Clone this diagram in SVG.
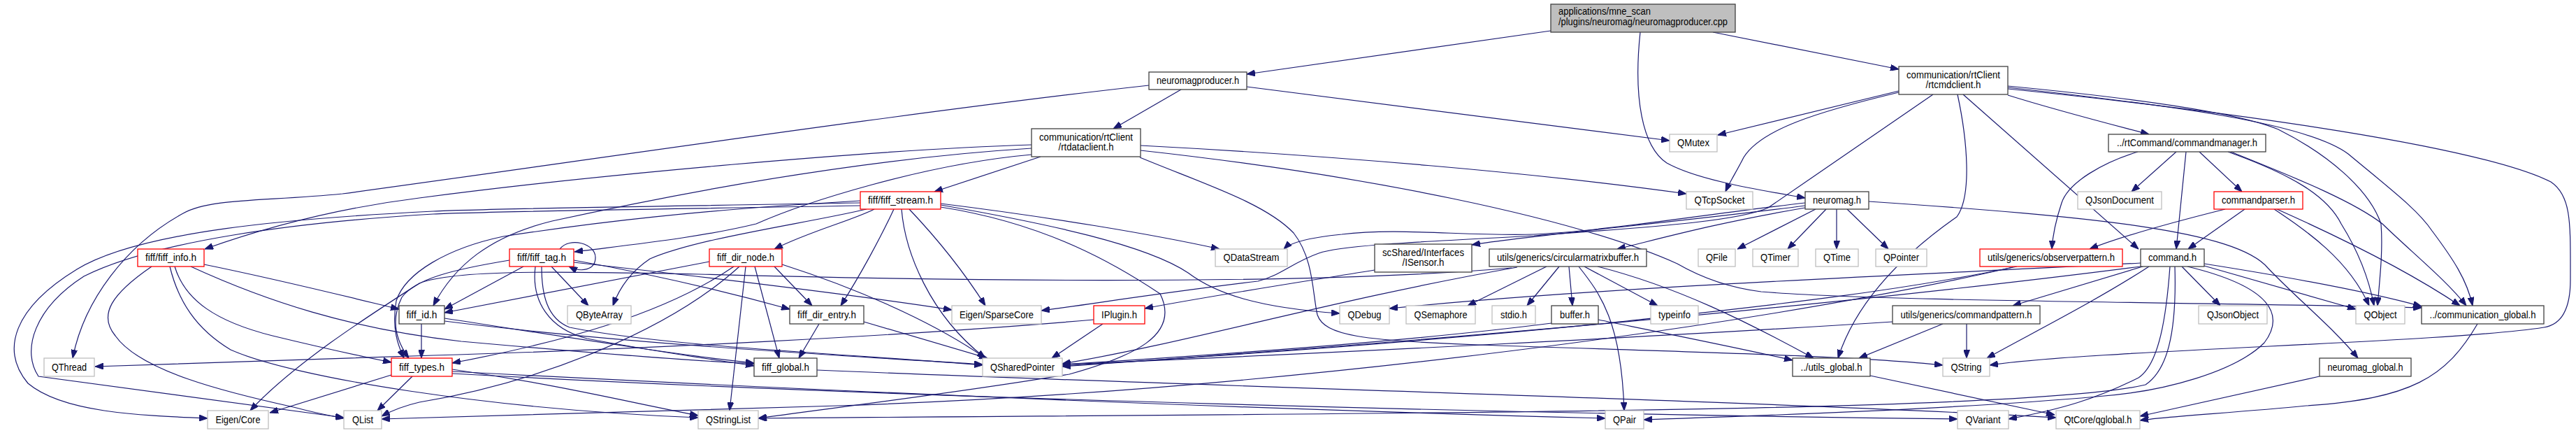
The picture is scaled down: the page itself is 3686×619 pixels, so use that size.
<svg xmlns="http://www.w3.org/2000/svg" width="3686" height="619" viewBox="0 0 3686 619">
<style>
.nd rect{fill:#ffffff;stroke-width:1.3}
.dk rect{stroke:#404040}
.gy rect{stroke:#bfbfbf}
.rd rect{stroke:#ff0000}
.rt rect{fill:#bfbfbf;stroke:#404040;stroke-width:1.3}
text{font-family:"Liberation Sans",Arial,sans-serif;font-size:14px;fill:#000000;text-anchor:middle}
.rt text{text-anchor:start}
#edges path{fill:none;stroke:#191970;stroke-width:1.2;marker-end:url(#ah)}
</style>
<defs>
<marker id="ah" markerUnits="userSpaceOnUse" markerWidth="12" markerHeight="9" refX="12" refY="4.5" orient="auto">
<path d="M0,0 L12,4.5 L0,9 z" fill="#191970" stroke="#191970" stroke-width="1"/>
</marker>
</defs>
<rect x="0" y="0" width="3686" height="619" fill="#ffffff"/>
<g id="edges">
<path d="M2219,44 L1784,106"/>
<path d="M2451,46 L2717,99"/>
<path d="M2347,46 C2337,140 2350,210 2385,233 C2430,258 2520,272 2583,283"/>
<path d="M1690,128 L1593,184"/>
<path d="M1784,124 L2389,201"/>
<path d="M1644,122 C1300,160 800,235 490,277 C380,288 300,283 262,305 C180,350 120,430 104,512"/>
<path d="M1489,224 L1337,274"/>
<path d="M1476,207 C1250,214 850,250 600,283 C480,298 380,325 293,356"/>
<path d="M1476,212 C1250,226 1000,270 790,316 C700,338 650,380 620,437"/>
<path d="M1476,221 C1320,235 1150,290 1082,320 C1000,340 900,350 822,360"/>
<path d="M1632,208 C1900,222 2200,247 2413,277"/>
<path d="M1631,225 C1720,262 1810,290 1851,333 C1880,370 1878,420 1885,450 C1895,480 1950,487 2116,493 C2400,503 2650,508 2780,522"/>
<path d="M1632,215 C1950,250 2250,310 2400,377 C2440,400 2480,412 2520,417 C2700,432 3200,432 3465,440"/>
<path d="M1231,290 C950,295 700,298 620,302 C420,312 200,330 110,385 C20,440 0,500 40,548 C90,590 200,594 297,598"/>
<path d="M1231,294 C950,299 700,302 620,306 C420,318 220,345 120,395 C50,440 30,500 55,538 L492,597"/>
<path d="M1251,299 C1220,315 1160,330 1108,356"/>
<path d="M1279,299 C1260,340 1230,395 1203,437"/>
<path d="M1290,299 C1295,360 1330,450 1410,512"/>
<path d="M1301,299 C1340,340 1380,390 1410,437"/>
<path d="M1346,291 C1500,310 1650,335 1745,356"/>
<path d="M1346,293 C1500,320 1640,350 1700,390 C1740,420 1800,440 1917,448"/>
<path d="M1346,296 C1500,320 1600,380 1660,420 C1690,480 1620,510 1530,535 C1350,565 1150,588 1085,598"/>
<path d="M1240,299 C1150,320 1000,340 930,370 C900,390 885,415 877,437"/>
<path d="M1231,287 C1000,300 850,318 720,338 C640,355 580,390 567,430 C560,470 570,495 578,512"/>
<path d="M292,378 C400,400 480,420 571,442"/>
<path d="M250,381 C265,430 310,460 390,480 C460,497 510,508 560,518"/>
<path d="M217,381 C160,420 140,450 165,480 C200,530 320,560 420,582 C450,590 470,594 492,598"/>
<path d="M243,381 C255,430 280,470 330,500 C420,540 700,585 999,597"/>
<path d="M273,381 C380,430 500,470 660,488 C850,505 980,515 1079,520"/>
<path d="M801,356 C815,338 852,348 852,368 C852,386 832,390 814,381"/>
<path d="M749,381 L636,442"/>
<path d="M789,381 L842,437"/>
<path d="M729,372 C650,385 595,398 575,425 C560,455 565,485 585,512"/>
<path d="M766,381 C760,430 785,470 840,484 C950,505 1030,515 1079,523"/>
<path d="M775,381 C775,420 782,455 815,468 C950,495 1200,505 1406,522"/>
<path d="M821,372 C950,395 1050,420 1130,442"/>
<path d="M821,375 C1000,395 1200,418 1362,443"/>
<path d="M603,463 L603,512"/>
<path d="M636,455 C800,480 950,505 1079,519"/>
<path d="M636,459 C900,492 1200,508 1406,521"/>
<path d="M560,536 L386,590"/>
<path d="M590,538 L540,587"/>
<path d="M647,528 C800,550 900,575 999,594"/>
<path d="M647,531 C1200,560 1800,585 2297,598"/>
<path d="M647,534 C1300,570 2200,592 2801,599"/>
<path d="M1015,374 L636,447"/>
<path d="M1108,381 L1162,437"/>
<path d="M1080,381 L1115,512"/>
<path d="M1067,381 L1044,587"/>
<path d="M1050,381 C950,450 800,490 647,519"/>
<path d="M1058,381 C960,470 780,545 600,575 C570,582 555,590 546,595"/>
<path d="M1119,378 C1250,420 1350,470 1410,512"/>
<path d="M1172,463 L1143,512"/>
<path d="M1236,460 L1413,512"/>
<path d="M1169,529 C1700,552 2500,572 2942,597"/>
<path d="M1578,463 L1505,512"/>
<path d="M1565,457 C1300,480 900,500 620,508 C400,515 250,520 136,524"/>
<path d="M1967,386 C1850,405 1720,425 1638,441"/>
<path d="M2717,130 L2458,193"/>
<path d="M2717,132 C2600,160 2520,185 2495,225 C2485,245 2475,260 2469,274"/>
<path d="M2873,136 C2950,160 3030,180 3075,192"/>
<path d="M2809,135 L3060,356"/>
<path d="M2801,135 C2815,200 2822,280 2800,310 C2700,380 2650,450 2630,512"/>
<path d="M2873,123 C3050,140 3200,160 3260,185 C3330,220 3390,270 3407,320 C3410,360 3405,400 3402,437"/>
<path d="M2873,125 C3100,150 3300,175 3360,220 C3420,270 3460,300 3480,330 C3510,370 3530,400 3538,437"/>
<path d="M2873,127 C3200,160 3550,210 3650,260 C3680,280 3678,320 3678,400 C3678,450 3660,465 3640,468 C3500,490 3000,500 2847,522"/>
<path d="M2766,135 L2530,297 C2480,320 2300,328 2195,337 C2050,345 1920,350 1887,362 C1850,375 1830,395 1800,402 C1650,420 1560,435 1490,444"/>
<path d="M2583,290 C2450,305 2300,330 2195,335 C2100,338 2000,325 1920,335 C1870,340 1845,348 1837,356"/>
<path d="M2583,294 C2400,318 2200,335 2106,350"/>
<path d="M2583,297 C2450,320 2380,340 2314,356"/>
<path d="M2598,299 L2486,356"/>
<path d="M2613,299 L2558,356"/>
<path d="M2628,299 L2628,356"/>
<path d="M2643,299 L2702,356"/>
<path d="M2674,288 C3000,310 3200,330 3245,383 C3290,430 3340,470 3374,512"/>
<path d="M2213,381 L2100,437"/>
<path d="M2231,381 L2185,437"/>
<path d="M2245,381 L2250,437"/>
<path d="M2267,381 L2372,437"/>
<path d="M2259,381 C2290,420 2320,460 2324,587"/>
<path d="M2286,381 C2400,410 2500,460 2595,512"/>
<path d="M2171,382 C1900,430 1700,490 1520,520"/>
<path d="M2163,383 C1850,410 1300,400 1000,392 C800,388 650,385 600,405 C530,450 420,520 358,587"/>
<path d="M2220,462 C2000,490 1700,510 1520,521"/>
<path d="M2287,457 C2400,480 2500,500 2565,515"/>
<path d="M3114,217 L3050,274"/>
<path d="M3147,217 L3208,274"/>
<path d="M3128,217 L3114,356"/>
<path d="M3059,217 C3010,232 2960,260 2950,290 C2940,320 2937,340 2936,356"/>
<path d="M3188,217 C3280,250 3330,280 3350,320 C3375,360 3390,400 3397,437"/>
<path d="M3192,217 C3300,260 3370,290 3409,320 C3450,360 3500,400 3529,437"/>
<path d="M3184,299 C3100,320 3030,340 2990,356"/>
<path d="M3212,299 L3131,356"/>
<path d="M3254,299 C3300,330 3360,370 3390,437"/>
<path d="M3258,299 C3350,340 3450,390 3520,437"/>
<path d="M2886,381 C2700,420 2500,440 2300,462 C2000,492 1700,512 1520,523"/>
<path d="M2880,382 C2500,470 1800,560 1200,580 C900,588 700,594 546,599"/>
<path d="M3122,381 L3177,437"/>
<path d="M3154,380 L3371,442"/>
<path d="M3154,377 C3300,400 3400,420 3465,438"/>
<path d="M3066,381 L2880,437"/>
<path d="M3075,381 C3000,430 2900,480 2843,512"/>
<path d="M3070,380 C2800,415 2300,470 1520,524"/>
<path d="M3063,376 C2700,395 2300,410 1988,441"/>
<path d="M3105,381 C3100,450 3090,520 3060,540 C3000,570 2950,585 2874,599"/>
<path d="M3112,381 C3115,480 3100,530 3070,550 C2900,590 2000,590 1085,598"/>
<path d="M3130,381 C3250,410 3270,450 3240,490 C3200,530 3100,560 3000,567 C2800,585 2500,595 2352,600"/>
<path d="M2814,463 L2814,512"/>
<path d="M2780,463 L2660,512"/>
<path d="M2708,460 C2400,480 1900,505 1520,521"/>
<path d="M2676,537 L2940,593"/>
<path d="M3319,538 L3062,595"/>
<path d="M3545,463 C3500,540 3450,570 3300,580 C3200,590 3100,595 3062,601"/>
</g>
<g id="n_root" class="rt"><rect x="2219" y="6" width="264" height="40"/><text x="2230" y="21" textLength="132" lengthAdjust="spacingAndGlyphs">applications/mne_scan</text><text x="2230" y="36" textLength="242" lengthAdjust="spacingAndGlyphs">/plugins/neuromag/neuromagproducer.cpp</text></g>
<g id="n_nmp" class="nd dk"><rect x="1644" y="103" width="140" height="25"/><text x="1714" y="120" textLength="118" lengthAdjust="spacingAndGlyphs">neuromagproducer.h</text></g>
<g id="n_rdc" class="nd dk"><rect x="1476" y="184" width="156" height="40"/><text x="1554" y="201" textLength="134" lengthAdjust="spacingAndGlyphs">communication/rtClient</text><text x="1554" y="215" textLength="79" lengthAdjust="spacingAndGlyphs">/rtdataclient.h</text></g>
<g id="n_fs" class="nd rd"><rect x="1231" y="274" width="115" height="25"/><text x="1288.5" y="291" textLength="93" lengthAdjust="spacingAndGlyphs">fiff/fiff_stream.h</text></g>
<g id="n_rcc" class="nd dk"><rect x="2717" y="95" width="156" height="40"/><text x="2795" y="112" textLength="134" lengthAdjust="spacingAndGlyphs">communication/rtClient</text><text x="2795" y="126" textLength="79" lengthAdjust="spacingAndGlyphs">/rtcmdclient.h</text></g>
<g id="n_qmutex" class="nd gy"><rect x="2389" y="192" width="68" height="25"/><text x="2423" y="209" textLength="46" lengthAdjust="spacingAndGlyphs">QMutex</text></g>
<g id="n_qtcp" class="nd gy"><rect x="2413" y="274" width="95" height="25"/><text x="2460.5" y="291" textLength="72" lengthAdjust="spacingAndGlyphs">QTcpSocket</text></g>
<g id="n_nm" class="nd dk"><rect x="2583" y="274" width="91" height="25"/><text x="2628.5" y="291" textLength="69" lengthAdjust="spacingAndGlyphs">neuromag.h</text></g>
<g id="n_cm" class="nd dk"><rect x="3017" y="192" width="225" height="25"/><text x="3129.5" y="209" textLength="201" lengthAdjust="spacingAndGlyphs">../rtCommand/commandmanager.h</text></g>
<g id="n_qjd" class="nd gy"><rect x="2973" y="274" width="120" height="25"/><text x="3033" y="291" textLength="98" lengthAdjust="spacingAndGlyphs">QJsonDocument</text></g>
<g id="n_cp" class="nd rd"><rect x="3168" y="274" width="127" height="25"/><text x="3231.5" y="291" textLength="105" lengthAdjust="spacingAndGlyphs">commandparser.h</text></g>
<g id="n_fi" class="nd rd"><rect x="197" y="356" width="95" height="25"/><text x="244.5" y="373" textLength="73" lengthAdjust="spacingAndGlyphs">fiff/fiff_info.h</text></g>
<g id="n_qthread" class="nd gy"><rect x="63" y="512" width="72" height="26"/><text x="99" y="530" textLength="50" lengthAdjust="spacingAndGlyphs">QThread</text></g>
<g id="n_fid" class="nd dk"><rect x="571" y="437" width="65" height="26"/><text x="603.5" y="455" textLength="44" lengthAdjust="spacingAndGlyphs">fiff_id.h</text></g>
<g id="n_ft" class="nd rd"><rect x="560" y="512" width="87" height="26"/><text x="603.5" y="530" textLength="65" lengthAdjust="spacingAndGlyphs">fiff_types.h</text></g>
<g id="n_ec" class="nd gy"><rect x="297" y="587" width="87" height="26"/><text x="340.5" y="605" textLength="64" lengthAdjust="spacingAndGlyphs">Eigen/Core</text></g>
<g id="n_qlist" class="nd gy"><rect x="492" y="587" width="54" height="26"/><text x="519" y="605" textLength="30" lengthAdjust="spacingAndGlyphs">QList</text></g>
<g id="n_ftag" class="nd rd"><rect x="729" y="356" width="92" height="25"/><text x="775" y="373" textLength="70" lengthAdjust="spacingAndGlyphs">fiff/fiff_tag.h</text></g>
<g id="n_qba" class="nd gy"><rect x="812" y="437" width="91" height="26"/><text x="857.5" y="455" textLength="67" lengthAdjust="spacingAndGlyphs">QByteArray</text></g>
<g id="n_fdn" class="nd rd"><rect x="1015" y="356" width="104" height="25"/><text x="1067" y="373" textLength="82" lengthAdjust="spacingAndGlyphs">fiff_dir_node.h</text></g>
<g id="n_fde" class="nd dk"><rect x="1130" y="437" width="106" height="26"/><text x="1183" y="455" textLength="84" lengthAdjust="spacingAndGlyphs">fiff_dir_entry.h</text></g>
<g id="n_fg" class="nd dk"><rect x="1079" y="512" width="90" height="26"/><text x="1124" y="530" textLength="68" lengthAdjust="spacingAndGlyphs">fiff_global.h</text></g>
<g id="n_qsl" class="nd gy"><rect x="999" y="587" width="86" height="26"/><text x="1042" y="605" textLength="64" lengthAdjust="spacingAndGlyphs">QStringList</text></g>
<g id="n_esc" class="nd gy"><rect x="1362" y="437" width="128" height="26"/><text x="1426" y="455" textLength="106" lengthAdjust="spacingAndGlyphs">Eigen/SparseCore</text></g>
<g id="n_ip" class="nd rd"><rect x="1565" y="437" width="73" height="26"/><text x="1601.5" y="455" textLength="51" lengthAdjust="spacingAndGlyphs">IPlugin.h</text></g>
<g id="n_qsp" class="nd gy"><rect x="1406" y="512" width="114" height="26"/><text x="1463" y="530" textLength="92" lengthAdjust="spacingAndGlyphs">QSharedPointer</text></g>
<g id="n_qds" class="nd gy"><rect x="1739" y="356" width="103" height="25"/><text x="1790.5" y="373" textLength="80" lengthAdjust="spacingAndGlyphs">QDataStream</text></g>
<g id="n_isensor" class="nd dk"><rect x="1967" y="349" width="139" height="40"/><text x="2036.5" y="366" textLength="117" lengthAdjust="spacingAndGlyphs">scShared/Interfaces</text><text x="2036.5" y="380" textLength="60" lengthAdjust="spacingAndGlyphs">/ISensor.h</text></g>
<g id="n_cmb" class="nd dk"><rect x="2131" y="356" width="225" height="25"/><text x="2243.5" y="373" textLength="203" lengthAdjust="spacingAndGlyphs">utils/generics/circularmatrixbuffer.h</text></g>
<g id="n_qdebug" class="nd gy"><rect x="1917" y="437" width="71" height="26"/><text x="1952.5" y="455" textLength="48" lengthAdjust="spacingAndGlyphs">QDebug</text></g>
<g id="n_qsem" class="nd gy"><rect x="2012" y="437" width="99" height="26"/><text x="2061.5" y="455" textLength="76" lengthAdjust="spacingAndGlyphs">QSemaphore</text></g>
<g id="n_stdio" class="nd gy"><rect x="2135" y="437" width="62" height="26"/><text x="2166" y="455" textLength="38" lengthAdjust="spacingAndGlyphs">stdio.h</text></g>
<g id="n_buffer" class="nd dk"><rect x="2220" y="437" width="67" height="26"/><text x="2253.5" y="455" textLength="43" lengthAdjust="spacingAndGlyphs">buffer.h</text></g>
<g id="n_typeinfo" class="nd gy"><rect x="2362" y="437" width="68" height="26"/><text x="2396" y="455" textLength="46" lengthAdjust="spacingAndGlyphs">typeinfo</text></g>
<g id="n_qpair" class="nd gy"><rect x="2297" y="587" width="55" height="26"/><text x="2324.5" y="605" textLength="33" lengthAdjust="spacingAndGlyphs">QPair</text></g>
<g id="n_qfile" class="nd gy"><rect x="2430" y="356" width="53" height="25"/><text x="2456.5" y="373" textLength="31" lengthAdjust="spacingAndGlyphs">QFile</text></g>
<g id="n_qtimer" class="nd gy"><rect x="2508" y="356" width="65" height="25"/><text x="2540.5" y="373" textLength="43" lengthAdjust="spacingAndGlyphs">QTimer</text></g>
<g id="n_qtime" class="nd gy"><rect x="2598" y="356" width="61" height="25"/><text x="2628.5" y="373" textLength="39" lengthAdjust="spacingAndGlyphs">QTime</text></g>
<g id="n_qpointer" class="nd gy"><rect x="2684" y="356" width="73" height="25"/><text x="2720.5" y="373" textLength="51" lengthAdjust="spacingAndGlyphs">QPointer</text></g>
<g id="n_obs" class="nd rd"><rect x="2833" y="356" width="204" height="25"/><text x="2935" y="373" textLength="182" lengthAdjust="spacingAndGlyphs">utils/generics/observerpattern.h</text></g>
<g id="n_cmd" class="nd dk"><rect x="3063" y="356" width="91" height="25"/><text x="3108.5" y="373" textLength="69" lengthAdjust="spacingAndGlyphs">command.h</text></g>
<g id="n_cpat" class="nd dk"><rect x="2708" y="437" width="211" height="26"/><text x="2813.5" y="455" textLength="188" lengthAdjust="spacingAndGlyphs">utils/generics/commandpattern.h</text></g>
<g id="n_ug" class="nd dk"><rect x="2565" y="512" width="111" height="26"/><text x="2620.5" y="530" textLength="88" lengthAdjust="spacingAndGlyphs">../utils_global.h</text></g>
<g id="n_qstring" class="nd gy"><rect x="2780" y="512" width="67" height="26"/><text x="2813.5" y="530" textLength="44" lengthAdjust="spacingAndGlyphs">QString</text></g>
<g id="n_qvariant" class="nd gy"><rect x="2801" y="587" width="73" height="26"/><text x="2837.5" y="605" textLength="50" lengthAdjust="spacingAndGlyphs">QVariant</text></g>
<g id="n_qcg" class="nd gy"><rect x="2942" y="587" width="120" height="26"/><text x="3002" y="605" textLength="97" lengthAdjust="spacingAndGlyphs">QtCore/qglobal.h</text></g>
<g id="n_qjo" class="nd gy"><rect x="3146" y="437" width="98" height="26"/><text x="3195" y="455" textLength="74" lengthAdjust="spacingAndGlyphs">QJsonObject</text></g>
<g id="n_qobj" class="nd gy"><rect x="3371" y="437" width="70" height="26"/><text x="3406" y="455" textLength="47" lengthAdjust="spacingAndGlyphs">QObject</text></g>
<g id="n_cg" class="nd dk"><rect x="3465" y="437" width="175" height="26"/><text x="3552.5" y="455" textLength="152" lengthAdjust="spacingAndGlyphs">../communication_global.h</text></g>
<g id="n_ng" class="nd dk"><rect x="3319" y="512" width="131" height="26"/><text x="3384.5" y="530" textLength="108" lengthAdjust="spacingAndGlyphs">neuromag_global.h</text></g>
</svg>
